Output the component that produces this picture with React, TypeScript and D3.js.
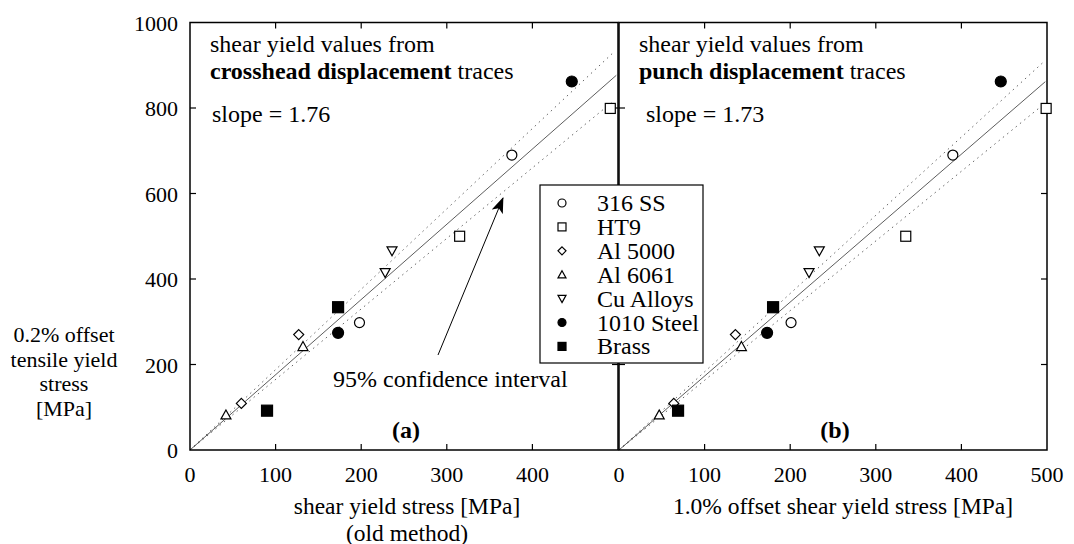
import React from "react";
import * as d3 from "d3";

// legend order
const materials = ["316 SS", "HT9", "Al 5000", "Al 6061", "Cu Alloys", "1010 Steel", "Brass"];
const markerShape = ["circle", "square", "diamond", "triangle-up", "triangle-down", "circle", "square"];
const markerFilled = [false, false, false, false, false, true, true];

// specimens (same tensile yield in both panels)
const pointMaterial = ["1010 Steel", "HT9", "316 SS", "HT9", "Cu Alloys", "Cu Alloys", "Brass", "316 SS", "1010 Steel", "Al 5000", "Al 6061", "Al 5000", "Al 6061", "Brass"];
const tensileYield = [862, 799, 690, 500, 466, 415, 334, 298, 274, 270, 242, 109, 82, 92];
const shearOld = [446, 491, 376, 315, 236, 228, 173, 198, 173, 127, 132, 60, 42, 90];
const shearOffset = [446, 499, 390, 335, 234, 222, 180, 201, 173, 136, 143, 64, 47, 69];

const fitSlope = [1.76, 1.73];
const ciLower = [1.65, 1.63];
const ciUpper = [1.88, 1.83];

const xTicks = [0, 100, 200, 300, 400, 500];
const yTicks = [0, 200, 400, 600, 800, 1000];
const yTitle = ["0.2% offset", "tensile yield", "stress", "[MPa]"];

const FONT = "Liberation Serif, DejaVu Serif, serif";
const FS = 24;   // annotation / title text
const TFS = 22;  // tick labels

function Marker({ shape, filled, x, y, s }: any) {
  const fill = filled ? "#000" : "#fff";
  const common = { fill, stroke: "#000", strokeWidth: 1.2 };
  if (shape === "circle") return <circle cx={x} cy={y} r={s / 2} {...common} />;
  if (shape === "square") return <rect x={x - s / 2} y={y - s / 2} width={s} height={s} {...common} />;
  if (shape === "diamond") {
    const h = s / 2;
    return <path d={`M${x},${y - h}L${x + h},${y}L${x},${y + h}L${x - h},${y}Z`} {...common} />;
  }
  if (shape === "triangle-up") {
    const h = s / 2;
    return <path d={`M${x},${y - h}L${x + h},${y + h * 0.8}L${x - h},${y + h * 0.8}Z`} {...common} />;
  }
  const h = s / 2;
  return <path d={`M${x},${y + h}L${x + h},${y - h * 0.8}L${x - h},${y - h * 0.8}Z`} {...common} />;
}

export default function App() {
  const W = 1074, H = 544;
  const y = d3.scaleLinear().domain([0, 1000]).range([450, 22.5]);
  const panels = [
    { x: d3.scaleLinear().domain([0, 500]).range([190, 618]), vals: shearOld, tag: "(a)",
      bold: "crosshead displacement", slopeTxt: "slope = 1.76", title: ["shear yield stress [MPa]", "(old method)"], titleX: 407 },
    { x: d3.scaleLinear().domain([0, 500]).range([619, 1047]), vals: shearOffset, tag: "(b)",
      bold: "punch displacement", slopeTxt: "slope = 1.73", title: ["1.0% offset shear yield stress [MPa]"], titleX: 843 },
  ];
  const tl = 6;
  const matIdx = (m: string) => materials.indexOf(m);

  return (
    <svg width={W} height={H} style={{ position: "absolute", left: 0, top: 0, background: "#fff", fontFamily: FONT }}>
      <defs>
        <marker id="arr" viewBox="0 0 16 12" refX="15" refY="6" markerWidth="16" markerHeight="12" markerUnits="userSpaceOnUse" orient="auto">
          <path d="M0,0L16,6L0,12L4,6Z" fill="#000" />
        </marker>
      </defs>
      {panels.map((p, pi) => {
        const [x0, x1] = p.x.range();
        const line = (k: number, xe: number) => `M${p.x(0)},${y(0)}L${p.x(xe)},${y(k * xe)}`;
        return (
          <g key={pi}>
            {/* fit + confidence lines */}
            <path d={line(ciUpper[pi], 495)} stroke="#666" strokeWidth={1} strokeDasharray="1.5,4" fill="none" />
            <path d={line(ciLower[pi], 495)} stroke="#666" strokeWidth={1} strokeDasharray="1.5,4" fill="none" />
            <path d={line(fitSlope[pi], 498)} stroke="#333" strokeWidth={0.8} fill="none" />
            {/* frame */}
            <rect x={x0} y={y(1000)} width={x1 - x0} height={y(0) - y(1000)} fill="none" stroke="#000" strokeWidth={1.5} />
            {xTicks.slice(1, -1).map((t) => (
              <g key={t}>
                <line x1={p.x(t)} x2={p.x(t)} y1={y(0)} y2={y(0) - tl} stroke="#000" strokeWidth={1.2} />
                <line x1={p.x(t)} x2={p.x(t)} y1={y(1000)} y2={y(1000) + tl} stroke="#000" strokeWidth={1.2} />
              </g>
            ))}
            {yTicks.slice(1, -1).map((t) => (
              <g key={t}>
                <line x1={x0} x2={x0 + tl} y1={y(t)} y2={y(t)} stroke="#000" strokeWidth={1.2} />
                <line x1={x1} x2={x1 - tl} y1={y(t)} y2={y(t)} stroke="#000" strokeWidth={1.2} />
              </g>
            ))}
            {(pi === 0 ? xTicks.slice(0, -1) : xTicks).map((t) => (
              <text key={t} x={p.x(t)} y={482} fontSize={TFS} textAnchor="middle">{t}</text>
            ))}
            {p.title.map((s, i) => (
              <text key={i} x={p.titleX} y={514 + i * 26.5} fontSize={23.5} textAnchor="middle">{s}</text>
            ))}
            {/* annotations */}
            <text x={x0 + 20} y={52} fontSize={FS}>shear yield values from</text>
            <text x={x0 + 20} y={79} fontSize={FS}>
              <tspan fontWeight="bold">{p.bold}</tspan> traces
            </text>
            <text x={x0 + (pi === 0 ? 22 : 27)} y={122} fontSize={FS}>{p.slopeTxt}</text>
            <text x={pi === 0 ? 406 : 835} y={438} fontSize={FS} fontWeight="bold" textAnchor="middle">{p.tag}</text>
            {/* points */}
            {p.vals.map((v, i) => {
              const m = matIdx(pointMaterial[i]);
              return <Marker key={i} shape={markerShape[m]} filled={markerFilled[m]} x={p.x(v)} y={y(tensileYield[i])} s={markerFilled[m] ? 11 : 10} />;
            })}
          </g>
        );
      })}
      {/* y tick labels */}
      {yTicks.map((t) => (
        <text key={t} x={178} y={y(t) + 8} fontSize={TFS} textAnchor="end">{t}</text>
      ))}
      {/* y axis title */}
      {yTitle.map((s, i) => (
        <text key={i} x={64} y={342 + i * 24.5} fontSize={22} textAnchor="middle">{s}</text>
      ))}
      {/* confidence annotation */}
      <text x={333} y={387} fontSize={FS}>95% confidence interval</text>
      <line x1={438} y1={355} x2={503} y2={198} stroke="#000" strokeWidth={1} markerEnd="url(#arr)" />
      {/* legend */}
      <rect x={540} y={185} width={163} height={178} fill="#fff" stroke="#000" strokeWidth={1.2} />
      {materials.map((m, i) => (
        <g key={m}>
          <Marker shape={markerShape[i]} filled={markerFilled[i]} x={562} y={203 + i * 23.9} s={8} />
          <text x={597} y={211 + i * 23.9} fontSize={FS}>{m}</text>
        </g>
      ))}
    </svg>
  );
}
